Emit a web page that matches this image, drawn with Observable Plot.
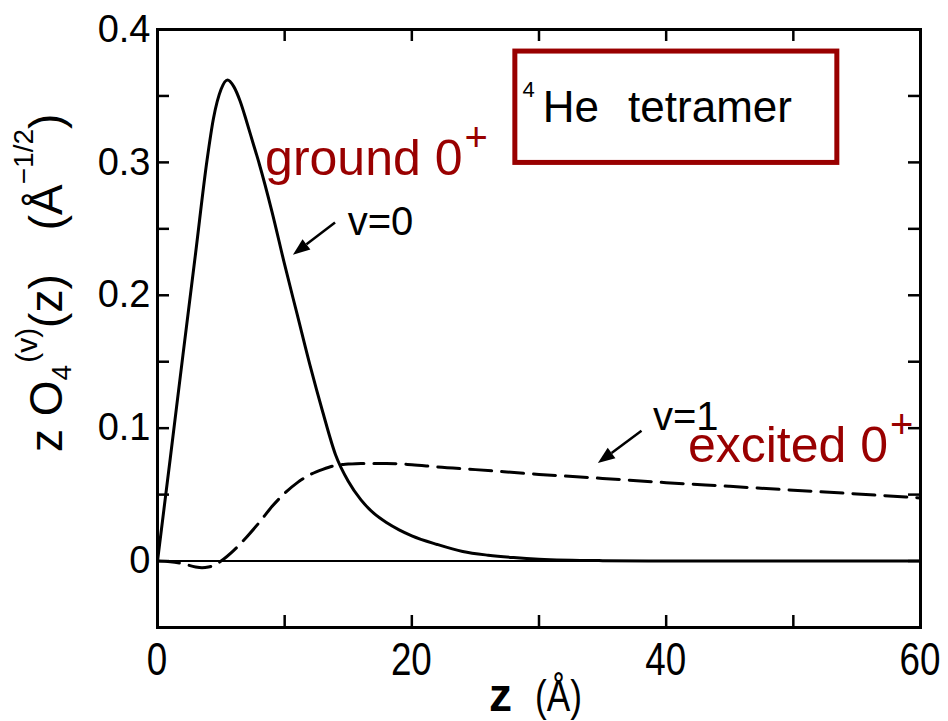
<!DOCTYPE html>
<html>
<head>
<meta charset="utf-8">
<script src="https://cdn.jsdelivr.net/npm/d3@7"></script>
<script src="https://cdn.jsdelivr.net/npm/@observablehq/plot@0.6"></script>
<style>
  html, body { margin: 0; padding: 0; background: #fff; }
  #chart svg { display: block; }
</style>
</head>
<body>
<div id="chart"></div>
<script>
// ---- data ----
const zGround = [0, 1, 2, 3, 3.9, 4.4, 5, 5.5, 6, 6.5, 7, 7.5, 8, 9, 10, 11, 12, 13, 14, 15, 16, 17, 18, 19, 20, 22, 24, 26, 28, 30, 35, 40, 50, 60];
const vGround = [0, 0.077, 0.155, 0.232, 0.302, 0.333, 0.355, 0.362, 0.357, 0.346, 0.331, 0.315, 0.299, 0.263, 0.223, 0.185, 0.147, 0.112, 0.080, 0.060, 0.046, 0.036, 0.029, 0.0235, 0.019, 0.0125, 0.0072, 0.0044, 0.0026, 0.0014, 0.0003, 0, 0, 0];

const zExcited = [0, 1, 2, 3, 3.5, 4, 4.5, 5, 6, 7, 8, 9, 10, 11, 12, 13, 14, 15, 16, 18, 20, 22, 25, 30, 35, 40, 45, 50, 55, 60];
const vExcited = [0, -0.0005, -0.002, -0.0045, -0.005, -0.0045, -0.003, 0, 0.008, 0.018, 0.029, 0.041, 0.051, 0.059, 0.065, 0.069, 0.072, 0.073, 0.0735, 0.0735, 0.0725, 0.0708, 0.0688, 0.0652, 0.0622, 0.059, 0.0562, 0.0533, 0.0505, 0.0475];

const xTicks = [0, 10, 20, 30, 40, 50, 60];
const xTickLabels = [0, 20, 40, 60];
const yTicks = [-0.05, 0, 0.05, 0.1, 0.15, 0.2, 0.25, 0.3, 0.35, 0.4];
const yTickLabels = [0, 0.1, 0.2, 0.3, 0.4];

// annotations (data units)
const stateLabels = [
  {text: "ground 0", sup: "+", z: 8.5, v: 0.290},
  {text: "excited 0", sup: "+", z: 41.75, v: 0.0742}
];
const curveLabels = [
  {text: "v=0", z: 15.0, v: 0.245},
  {text: "v=1", z: 39.0, v: 0.098}
];
const arrows = [
  {z1: 14.0, v1: 0.2543, z2: 10.69, v2: 0.2302},
  {z1: 38.1, v1: 0.0976, z2: 34.67, v2: 0.0734}
];
const boxExtent = {z1: 28.14, z2: 53.46, v1: 0.2996, v2: 0.3834};
const boxText = {pre: "4", main: "He", rest: "tetramer", z: 28.75, v: 0.3298};

// ---- styling ----
const RED = "#990000";
const FONT = "'Liberation Sans', Arial, sans-serif";
const W = 948, H = 721;
const mL = 157, mR = 28, mT = 29, mB = 94;
const plotW = W - mL - mR, plotH = H - mT - mB;
const TICK = 12;
const NARROW_SCALE = 0.8;

const ground = zGround.map((z, i) => ({z, v: vGround[i]}));
const excited = zExcited.map((z, i) => ({z, v: vExcited[i]}));

function annotations(index, scales) {
  const {x, y} = scales;
  const g = d3.create("svg:g").attr("font-family", FONT).attr("text-anchor", "start");

  // box
  g.append("rect")
    .attr("x", x(boxExtent.z1)).attr("y", y(boxExtent.v2))
    .attr("width", x(boxExtent.z2) - x(boxExtent.z1))
    .attr("height", y(boxExtent.v1) - y(boxExtent.v2))
    .attr("fill", "white").attr("stroke", RED).attr("stroke-width", 5);
  const bt = g.append("text").attr("x", x(boxText.z)).attr("y", y(boxText.v)).attr("fill", "black");
  bt.append("tspan").attr("font-size", 22).attr("dy", -25).text(boxText.pre);
  bt.append("tspan").attr("font-size", 44).attr("dy", 25).attr("dx", 8).text(boxText.main);
  bt.append("tspan").attr("font-size", 44).attr("dx", 29).text(boxText.rest);

  // state labels
  for (const d of stateLabels) {
    const t = g.append("text").attr("x", x(d.z)).attr("y", y(d.v)).attr("fill", RED).attr("font-size", 50);
    t.append("tspan").text(d.text);
    t.append("tspan").attr("font-size", 40).attr("dy", -24).attr("dx", 2).text(d.sup);
  }
  // curve labels
  for (const d of curveLabels) {
    g.append("text").attr("x", x(d.z)).attr("y", y(d.v)).attr("fill", "black").attr("font-size", 40).text(d.text);
  }
  // arrows with filled heads
  for (const a of arrows) {
    const x1 = x(a.z1), y1 = y(a.v1), x2 = x(a.z2), y2 = y(a.v2);
    const ang = Math.atan2(y2 - y1, x2 - x1);
    const hl = 17, hw = 6.5;
    const bx = x2 - hl * Math.cos(ang), by = y2 - hl * Math.sin(ang);
    g.append("line").attr("x1", x1).attr("y1", y1).attr("x2", bx).attr("y2", by)
      .attr("stroke", "black").attr("stroke-width", 2.5);
    const px = -Math.sin(ang) * hw, py = Math.cos(ang) * hw;
    g.append("path")
      .attr("d", `M${x2},${y2}L${bx + px},${by + py}L${bx - px},${by - py}Z`)
      .attr("fill", "black");
  }

  // x tick labels (condensed, like the reference)
  for (const t of xTickLabels) {
    g.append("text")
      .attr("transform", `translate(${x(t)},${H - mB + 48}) scale(${NARROW_SCALE},1)`)
      .attr("text-anchor", "middle").attr("font-size", 46).attr("fill", "black")
      .text(String(t));
  }

  // y axis title
  const yt = g.append("text").attr("transform", "translate(62,452) rotate(-90)")
    .attr("fill", "black").attr("font-size", 46);
  yt.append("tspan").text("z O");
  yt.append("tspan").attr("font-size", 28).attr("dy", 9).text("4");
  yt.append("tspan").attr("font-size", 30).attr("dy", -34).attr("dx", 2).text("(v)");
  yt.append("tspan").attr("font-size", 46).attr("dy", 25).text("(z)");
  yt.append("tspan").attr("font-size", 46).attr("dx", 44).text("(\u00C5");
  yt.append("tspan").attr("font-size", 28).attr("dy", -29).text("\u22121/2");
  yt.append("tspan").attr("font-size", 46).attr("dy", 29).text(")");

  // x axis title
  g.append("text").attr("x", 489).attr("y", 711).attr("font-size", 46).attr("font-weight", "bold").attr("fill", "black").text("z");
  g.append("text").attr("transform", `translate(535,711) scale(${NARROW_SCALE},1)`)
    .attr("font-size", 44).attr("fill", "black").text("(\u00C5)");
  return g.node();
}

const chart = Plot.plot({
  width: W,
  height: H,
  marginLeft: mL,
  marginRight: mR,
  marginTop: mT,
  marginBottom: mB,
  style: {fontFamily: FONT, background: "white", color: "black"},
  x: {domain: [0, 60], label: null, axis: null},
  y: {domain: [-0.05, 0.4], label: null},
  marks: [
    Plot.ruleY([0], {stroke: "black", strokeWidth: 2}),
    // inward ticks on all four sides
    Plot.tickX(xTicks, {x: d => d, stroke: "black", strokeWidth: 2.5, insetTop: plotH - TICK}),
    Plot.tickX(xTicks, {x: d => d, stroke: "black", strokeWidth: 2.5, insetBottom: plotH - TICK}),
    Plot.tickY(yTicks, {y: d => d, stroke: "black", strokeWidth: 2.5, insetRight: plotW - TICK}),
    Plot.tickY(yTicks, {y: d => d, stroke: "black", strokeWidth: 2.5, insetLeft: plotW - TICK}),
    Plot.axisY(yTickLabels, {anchor: "left", tickSize: 0, tickPadding: 7, fontSize: 38, label: null, tickFormat: d => d === 0 ? "0" : d.toFixed(1)}),
    Plot.line(excited, {x: "z", y: "v", curve: "monotone-x", stroke: "black", strokeWidth: 3, strokeDasharray: "22,10"}),
    Plot.line(ground, {x: "z", y: "v", curve: "monotone-x", stroke: "black", strokeWidth: 3}),
    annotations,
    Plot.frame({stroke: "black", strokeWidth: 3})
  ]
});
document.getElementById("chart").appendChild(chart);
</script>
</body>
</html>
